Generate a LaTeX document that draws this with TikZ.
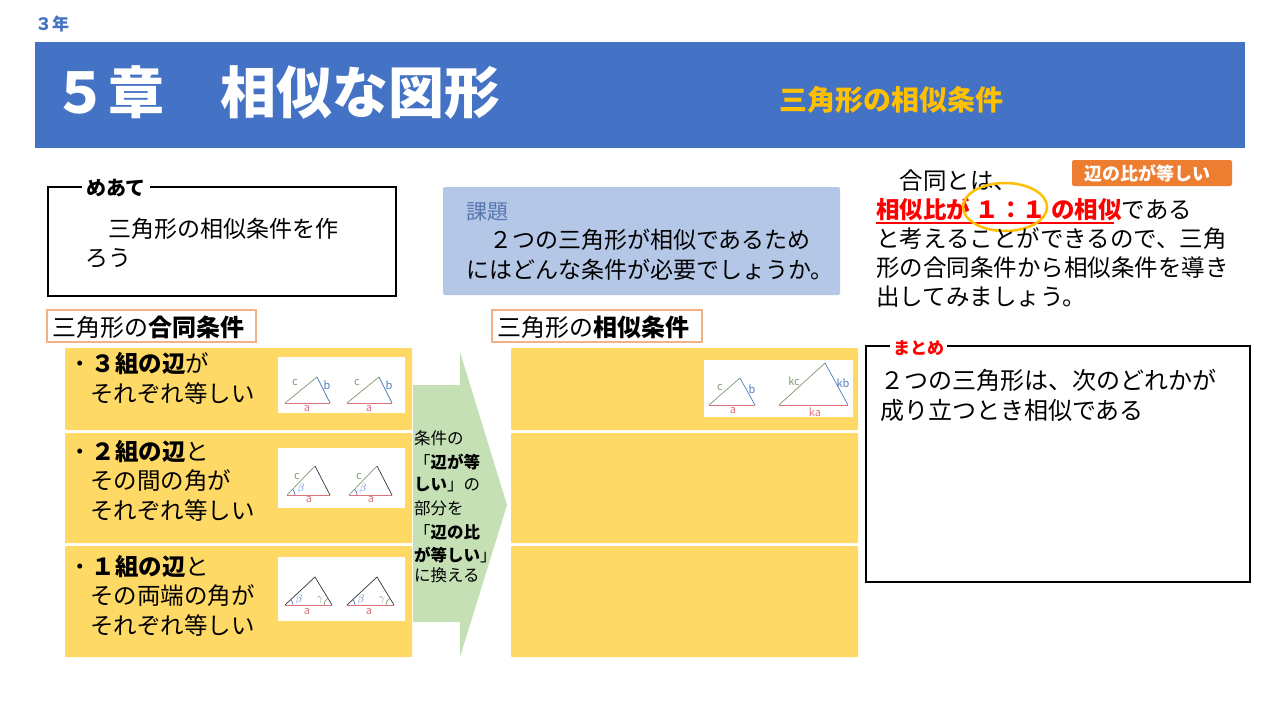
\documentclass[tikz,border=0pt]{standalone}
\usepackage{fontspec}
\setmainfont{Noto Sans CJK JP}
\usetikzlibrary{calc}
\definecolor{hblue}{HTML}{4472C4}
\definecolor{hor}{HTML}{FFC000}
\definecolor{yel}{HTML}{FFD966}
\definecolor{kblue}{HTML}{B4C7E7}
\definecolor{grn}{HTML}{C5E0B4}
\definecolor{call}{HTML}{ED7D31}
\definecolor{lbl}{HTML}{F4B183}
\definecolor{tred}{HTML}{D9747A}
\definecolor{tgrn}{HTML}{7F9A6F}
\definecolor{tblu}{HTML}{4F7FC0}
\newcommand{\fz}[1]{\fontsize{#1}{#1}\selectfont}
\begin{document}
\begin{tikzpicture}[x=1pt,y=-1pt,
  txt/.style={anchor=west,inner sep=0pt,font=\fz{23}},
  ybox/.style={fill=yel,draw=none,rounded corners=1pt},
  card/.style={fill=white,draw=none},
  tl/.style={inner sep=0pt,font=\fz{11}}]
\useasboundingbox (0,0) rectangle (1280,720);
\fill[white] (0,0) rectangle (1280,720);
\node[anchor=west,inner sep=0pt,text=hblue,font=\fz{17}\bfseries] (yr) at (35,24) {３年};
\fill[hblue] (35,42) rectangle (1245,148);
\node[anchor=west,inner sep=0pt,text=white,font=\fz{56}\bfseries] (ttl) at (52,92) {５章　相似な図形};
\node[anchor=west,inner sep=0pt,text=hor,font=\fz{28}\bfseries] (sub) at (779,100) {三角形の相似条件};
% meate
\draw[line width=2pt] (48,187) rectangle (396,296);
\node[anchor=west,fill=white,inner sep=4pt,font=\fz{20}\bfseries] (me) at (82,188) {めあて};
\node[txt] (m1) at (85,229) {　三角形の相似条件を作};
\node[txt] (m2) at (85,258) {ろう};
% kadai
\fill[kblue,rounded corners=2pt] (443,187) rectangle (840,295);
\node[txt,text=hblue!70!gray,font=\fz{21}] (kd) at (466,212) {課題};
\node[txt] (k1) at (466,240) {　２つの三角形が相似であるため};
\node[txt] (k2) at (466,270) {にはどんな条件が必要でしょうか。};
% right text
\node[txt,font=\fz{23.5}] (r1) at (876,181) {　合同とは、};
\node[txt,font=\fz{23.5}] (r2) at (876,209) {\textcolor{red}{\bfseries 相似比が\ １：１ の相似}である};
\draw[red,line width=1.3pt] (876,223) -- (1114,223);
\draw[hor,line width=2.5pt] (1005,207) ellipse (42 and 24);
\fill[call,rounded corners=2pt] (1072,160) rectangle (1232,186);
\node[inner sep=0pt,text=white,font=\fz{18}\bfseries] (cl) at (1147,173) {辺の比が等しい};
\node[txt,font=\fz{23.5}] (r3) at (876,239) {と考えることができるので、三角};
\node[txt,font=\fz{23.5}] (r4) at (876,268) {形の合同条件から相似条件を導き};
\node[txt,font=\fz{23.5}] (r5) at (876,297) {出してみましょう。};
% labels
\draw[lbl,fill=white,line width=1.2pt] (47,310) rectangle (256,342);
\node[txt,font=\fz{24}] (gl) at (52,327) {三角形の\textbf{合同条件}};
\draw[lbl,fill=white,line width=1.2pt] (492,310) rectangle (702,342);
\node[txt,font=\fz{24}] (sl) at (497,327) {三角形の\textbf{相似条件}};
% yellow boxes
\fill[ybox] (65,348) rectangle (412,430);
\fill[ybox] (65,433) rectangle (412,543);
\fill[ybox] (65,546) rectangle (412,657);
\fill[ybox] (511,348) rectangle (858,430);
\fill[ybox] (511,433) rectangle (858,543);
\fill[ybox] (511,546) rectangle (858,657);
\node[txt,font=\fz{23.5}] (a1) at (68,364) {・\textbf{３組の辺}が};
\node[txt,font=\fz{23.5}] (a2) at (90,393) {それぞれ等しい};
\node[txt,font=\fz{23.5}] (b1) at (68,452) {・\textbf{２組の辺}と};
\node[txt,font=\fz{23.5}] (b2) at (90,481) {その間の角が};
\node[txt,font=\fz{23.5}] (b3) at (90,510) {それぞれ等しい};
\node[txt,font=\fz{23.5}] (c1) at (68,567) {・\textbf{１組の辺}と};
\node[txt,font=\fz{23.5}] (c2) at (90,596) {その両端の角が};
\node[txt,font=\fz{23.5}] (c3) at (90,625) {それぞれ等しい};
% arrow
\fill[grn] (413,385) -- (460,385) -- (460,352) -- (507,505) -- (460,657) -- (460,622) -- (413,622) -- cycle;
\foreach \t/\yy [count=\i] in {条件の/438,「\textbf{辺が等}/462,\textbf{しい}」の/485,部分を/508,「\textbf{辺の比}/532,\textbf{が等しい}」/555,に換える/575}
  \node[anchor=west,inner sep=0pt,font=\fz{16.5}] (ar\i) at (414,\yy) {\t};
% cards
\fill[card] (278,357) rectangle (405,413);
\fill[card] (278,448) rectangle (405,508);
\fill[card] (278,557) rectangle (405,621);
\fill[card] (704,360) rectangle (853,417);
\foreach \dx in {0,62}{
 \begin{scope}[xshift=\dx,line width=0.7pt]
  \draw[tred] (285,403) -- (330,403);
  \draw[tgrn] (285,403) -- (317,377);
  \draw[tblu] (317,377) -- (330,403);
  \node[tl,text=tgrn] at (295,383) {c};
  \node[tl,text=tblu] at (327,385) {b};
  \node[tl,text=tred] at (307,409) {a};
  \draw[tred] (287,495) -- (330,495);
  \draw[tgrn] (287,495) -- (315,466);
  \draw[black!80] (315,466) -- (330,495);
  \draw[tblu] (295,495) arc (0:-46:8);
  \node[tl,text=tgrn] at (297,477) {c};
  \node[tl,text=tblu] at (301,489) {$\beta$};
  \node[tl,text=tred] at (309,500) {a};
  \draw[tred] (285,605) -- (332,605);
  \draw[black!80] (285,605) -- (315,577) -- (332,605);
  \draw[tblu] (293,605) arc (0:-43:8);
  \draw[tgrn] (324,605) arc (180:239:8);
  \node[tl,text=tblu] at (299,600) {$\beta$};
  \node[tl,text=tgrn] at (320,600) {$\gamma$};
  \node[tl,text=tred] at (307,612) {a};
 \end{scope}}
\begin{scope}[line width=0.7pt]
\draw[tred] (709,405) -- (755,405);
\draw[tgrn] (709,405) -- (740,378);
\draw[tblu] (740,378) -- (755,405);
\node[tl,text=tgrn] at (720,388) {c};
\node[tl,text=tblu] at (752,389) {b};
\node[tl,text=tred] at (733,411) {a};
\draw[tred] (779,405) -- (848,405);
\draw[tgrn] (779,405) -- (825,363);
\draw[tblu] (825,363) -- (848,405);
\node[tl,text=tgrn] at (794,381) {kc};
\node[tl,text=tblu] at (843,383) {kb};
\node[tl,text=tred] at (815,412) {ka};
\end{scope}
% matome
\draw[line width=2pt] (866,346) rectangle (1250,582);
\node[anchor=west,fill=white,inner sep=3pt,text=red,font=\fz{17}\bfseries] (mt) at (890,348) {まとめ};
\node[txt,font=\fz{24}] (t1) at (880,380) {２つの三角形は、次のどれかが};
\node[txt,font=\fz{24}] (t2) at (880,410) {成り立つとき相似である};
\end{tikzpicture}
\end{document}
